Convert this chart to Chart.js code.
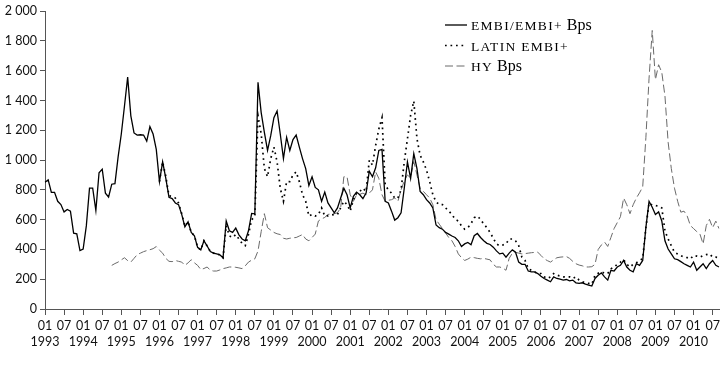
<!DOCTYPE html>
<html>
<head>
<meta charset="utf-8">
<script src="https://cdn.jsdelivr.net/npm/chart.js@4.4.1/dist/chart.umd.min.js"></script>
<style>
  html, body { margin: 0; padding: 0; background: #fff; }
  canvas { display: block; }
</style>
</head>
<body>
<canvas id="spreads" width="725" height="367"></canvas>
<script>
// monthly categories, 1993-01 .. 2010-09
const firstYear = 1993;
const lastYear = 2010;
const lastMonth = 9;
const months = [];
for (let y = firstYear; y <= lastYear; y++) {
    for (let m = 1; m <= 12; m++) {
        if (y === lastYear && m > lastMonth) break;
        months.push(y + "-" + String(m).padStart(2, "0"));
    }
}

// spreads, basis points
const embi = [
    851, 867, 783, 783, 723, 701, 652, 668, 657, 509,
    505, 392, 403, 558, 811, 811, 661, 915, 939, 778,
    752, 838, 842, 1021, 1175, 1363, 1557, 1297, 1182, 1168,
    1170, 1168, 1127, 1224, 1175, 1072, 855, 988, 877, 750,
    741, 712, 701, 635, 551, 586, 514, 492, 414, 397,
    458, 423, 386, 375, 370, 364, 344, 591, 525, 514,
    543, 498, 470, 458, 525, 642, 639, 1522, 1319, 1186,
    1065, 1164, 1285, 1330, 1175, 1010, 1153, 1065, 1138, 1168,
    1087, 1010, 943, 829, 888, 816, 800, 723, 785, 712,
    679, 646, 679, 745, 811, 767, 679, 756, 785, 767,
    741, 778, 925, 888, 948, 1065, 1072, 723, 712, 657,
    597, 613, 646, 811, 988, 877, 1043, 943, 789, 767,
    734, 712, 679, 564, 546, 536, 514, 503, 490, 480,
    458, 419, 437, 447, 432, 492, 507, 480, 458, 441,
    433, 415, 390, 370, 375, 348, 375, 397, 381, 315,
    300, 300, 255, 249, 249, 238, 220, 205, 194, 183,
    216, 205, 200, 194, 198, 189, 194, 176, 172, 176,
    167, 161, 154, 205, 227, 242, 216, 194, 260, 255,
    282, 293, 326, 282, 260, 249, 304, 293, 326, 546,
    723, 683, 635, 652, 591, 458, 403, 370, 337, 331,
    318, 304, 293, 282, 315, 260, 282, 304, 271, 304,
    326, 293, 282
];

// Latin EMBI+ from 1996-01
const latin = [
    855, 988, 890, 760,
    756, 745, 712, 640, 555, 586, 514, 492, 414, 397,
    458, 423, 386, 375, 370, 364, 344, 560, 490, 480,
    500, 470, 440, 425, 500, 600, 620, 1299, 1175, 943,
    888, 1010, 1087, 988, 811, 723, 855, 855, 900, 921,
    855, 767, 723, 624, 635, 624, 635, 679, 624, 625,
    630, 635, 635, 680, 723, 701, 657, 734, 778, 789,
    811, 789, 999, 966, 1098, 1208, 1285, 834, 800, 778,
    745, 745, 800, 988, 1142, 1300, 1396, 1142, 1032, 988,
    933, 855, 767, 720, 701, 701, 679, 657, 635, 602,
    591, 558, 536, 546, 573, 613, 624, 602, 570, 546,
    514, 475, 437, 425, 430, 437, 470, 470, 458, 425,
    348, 326, 271, 260, 249, 238, 238, 216, 205, 216,
    238, 227, 222, 216, 216, 216, 205, 216, 194, 183,
    176, 172, 167, 227, 240, 249, 240, 238, 270, 282,
    300, 315, 331, 300, 282, 300, 310, 326, 337, 546,
    712, 697, 695, 690, 679, 525, 470, 425, 381, 370,
    359, 348, 345, 337, 359, 355, 348, 359, 365, 370,
    348, 348, 345
];

// HY from 1994-10
const hy = [
    293, 305, 315, 330, 344, 325, 315, 340, 365,
    375, 385, 392, 398, 405, 419, 395, 375, 340, 320,
    318, 326, 320, 315, 293, 310, 331, 310, 293, 265,
    272, 282, 260, 255, 255, 262, 271, 276, 282, 282,
    280, 276, 271, 290, 315, 328, 337, 390, 520, 640,
    546, 530, 514, 505, 500, 475, 470, 475, 478, 480,
    490, 500, 470, 458, 480, 503, 591, 605, 615, 635,
    638, 640, 646, 680, 888, 888, 767, 723, 767, 770,
    778, 767, 778, 800, 921, 877, 767, 723, 730, 734,
    745, 723, 800, 860, 900, 880, 990, 900, 811, 790,
    767, 745, 700, 600, 570, 540, 510, 480, 458, 420,
    370, 345, 326, 335, 348, 345, 340, 337, 340, 335,
    330, 300, 282, 282, 275, 260, 340, 375, 381, 375,
    370, 372, 375, 378, 380, 381, 360, 337, 325, 315,
    330, 344, 348, 350, 352, 340, 320, 304, 295, 290,
    282, 282, 284, 300, 400, 430, 450, 420, 480, 540,
    580, 620, 745, 700, 640, 700, 745, 780, 820, 1150,
    1550, 1870, 1540, 1640, 1590, 1430, 1120, 943, 811, 723,
    650, 657, 624, 560, 540, 520, 503, 437, 560, 602,
    546, 590, 540
];

const yTicks = [0, 200, 400, 600, 800, 1000, 1200, 1400, 1600, 1800, 2000];

// pad the late-starting series with empty months
function fromMonth(start, values) {
    const i = months.indexOf(start);
    return Array(i).fill(null).concat(values);
}

function bps(v) {
    if (v < 1000) return String(v);
    return Math.floor(v / 1000) + " " + String(v % 1000).padStart(3, "0");
}

const tickFont = { family: "Lato", size: 12.5, lineHeight: 1.3 };
const axisColor = "#555";

// legend drawn inside the plot, top right
const legendRows = [
    { parts: [["EMBI/EMBI+", true], [" Bps", false]] },
    { parts: [["LATIN EMBI+", true]] },
    { parts: [["HY", true], [" Bps", false]] }
];

const insideLegend = {
    id: "insideLegend",
    afterDraw(chart) {
        const ctx = chart.ctx;
        const x0 = 445, x1 = 467, tx = 471;
        const rowY = [25, 45.5, 66];
        ctx.save();
        chart.data.datasets.forEach((ds, i) => {
            const y = rowY[i];
            ctx.strokeStyle = ds.borderColor;
            ctx.lineWidth = ds.borderWidth;
            ctx.setLineDash(ds.borderDash || []);
            ctx.beginPath();
            ctx.moveTo(x0, y);
            ctx.lineTo(x1, y);
            ctx.stroke();
            ctx.setLineDash([]);

            let x = tx;
            ctx.fillStyle = "#000";
            ctx.textBaseline = "alphabetic";
            legendRows[i].parts.forEach(([txt, small]) => {
                if (small) {
                    ctx.font = '13.5px "Liberation Serif"';
                    ctx.letterSpacing = "1.3px";
                } else {
                    ctx.font = '16px "Liberation Serif"';
                    ctx.letterSpacing = "0px";
                }
                ctx.fillText(txt, x, y + 5);
                x += ctx.measureText(txt).width;
            });
        });
        ctx.restore();
    }
};

new Chart(document.getElementById("spreads"), {
    type: "line",
    data: {
        labels: months,
        datasets: [
            {
                label: "EMBI/EMBI+ Bps",
                data: embi,
                borderColor: "#000",
                borderWidth: 1.3,
            },
            {
                label: "LATIN EMBI+",
                data: fromMonth("1996-01", latin),
                borderColor: "#000",
                borderWidth: 1.7,
                borderDash: [1.7, 3.8],
            },
            {
                label: "HY Bps",
                data: fromMonth("1994-10", hy),
                borderColor: "#6a6a6a",
                borderWidth: 1,
                borderDash: [8, 3.5],
            },
        ],
    },
    options: {
        responsive: false,
        animation: false,
        layout: { padding: { top: 7, right: 6, left: 0, bottom: 0 } },
        elements: {
            point: { radius: 0 },
            line: { tension: 0, fill: false },
        },
        plugins: {
            legend: { display: false },
            tooltip: { enabled: false },
        },
        scales: {
            x: {
                grid: { drawOnChartArea: false, tickLength: 6, color: axisColor },
                border: { color: axisColor },
                afterBuildTicks: (scale) => {
                    scale.ticks = scale.ticks.filter((t) => t.value % 6 === 0);
                },
                afterFit: (scale) => { scale.height = 58; },
                ticks: {
                    autoSkip: false,
                    maxRotation: 0,
                    padding: 3,
                    color: "#111",
                    font: tickFont,
                    callback: function (value) {
                        const [y, m] = this.getLabelForValue(value).split("-");
                        return m === "01" ? [m, y] : m;
                    },
                },
            },
            y: {
                min: 0,
                max: 2000,
                grid: { drawOnChartArea: false, tickLength: 5, color: axisColor },
                border: { color: axisColor },
                afterBuildTicks: (scale) => {
                    scale.ticks = yTicks.map((v) => ({ value: v }));
                },
                afterFit: (scale) => { scale.width = 45; },
                ticks: {
                    padding: 3,
                    color: "#111",
                    font: tickFont,
                    callback: (v) => bps(v),
                },
            },
        },
    },
    plugins: [insideLegend],
});
</script>
</body>
</html>
